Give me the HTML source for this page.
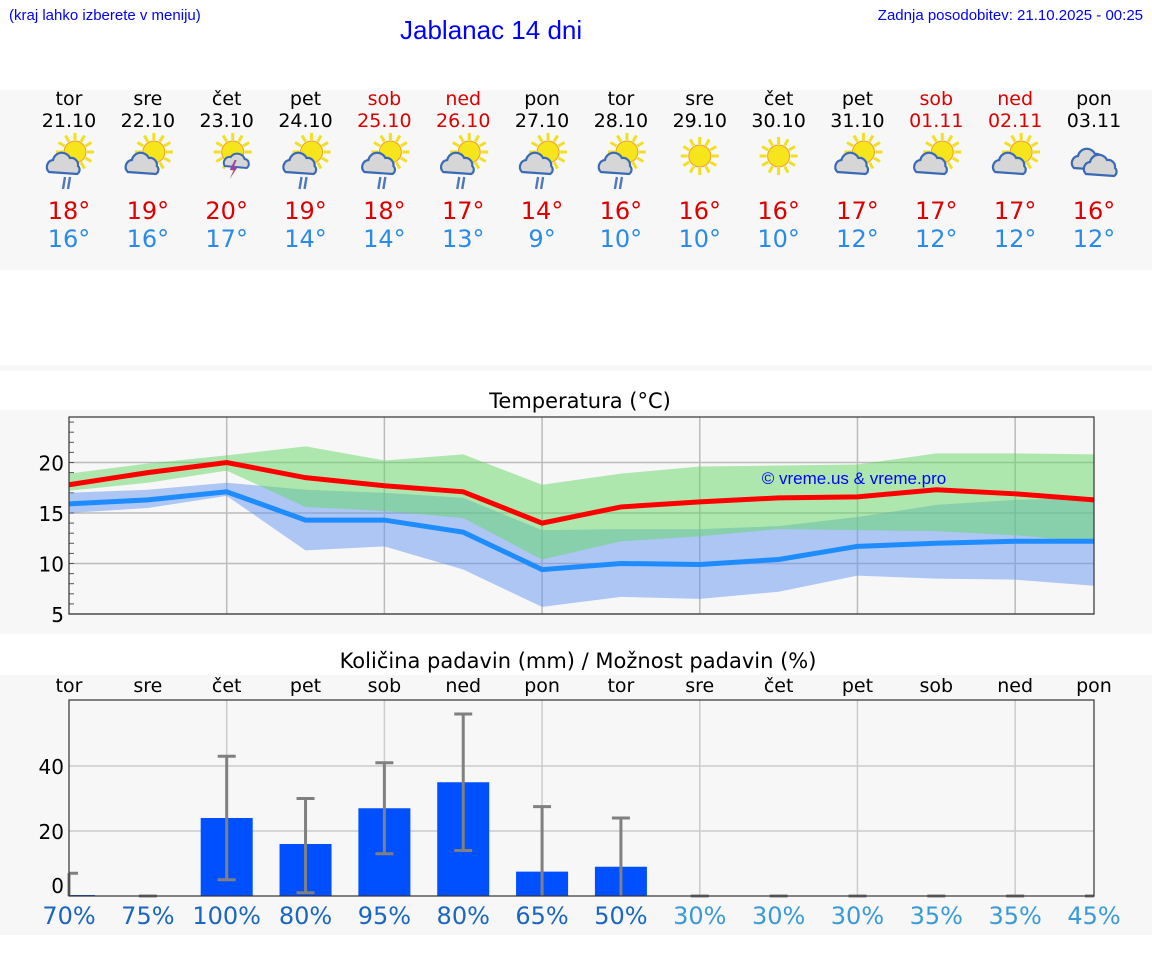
<!DOCTYPE html>
<html><head><meta charset="utf-8">
<style>
body{margin:0;width:1152px;height:975px;background:#fff;font-family:"DejaVu Sans","Liberation Sans",sans-serif;position:relative;overflow:hidden}
.abs{position:absolute}
.band{position:absolute;left:0;width:1152px;background:#f7f7f7}
.c{position:absolute;text-align:center;width:80px;transform:translateX(-40px)}
</style></head><body>
<div class="abs" style="left:9px;top:7px;font-size:15px;color:#00f;font-family:'Liberation Sans',sans-serif">(kraj lahko izberete v meniju)</div>
<div class="abs" style="left:400px;top:15px;font-size:26px;color:#00f;font-family:'Liberation Sans',sans-serif">Jablanac 14 dni</div>
<div class="abs" style="right:9px;top:7px;font-size:15px;color:#00f;font-family:'Liberation Sans',sans-serif">Zadnja posodobitev: 21.10.2025 - 00:25</div>
<div class="band" style="top:90px;height:180px"></div>
<div class="band" style="top:365px;height:6px"></div>
<div class="band" style="top:410px;height:224px"></div>
<div class="band" style="top:675px;height:260px"></div>
<div id="days"></div>
<svg id="ch" class="abs" style="left:0;top:0" width="1152" height="975"></svg>
<script>
const days=["tor","sre","čet","pet","sob","ned","pon","tor","sre","čet","pet","sob","ned","pon"];
const dates=["21.10","22.10","23.10","24.10","25.10","26.10","27.10","28.10","29.10","30.10","31.10","01.11","02.11","03.11"];
const weekend=[0,0,0,0,1,1,0,0,0,0,0,1,1,0];
const icons=["rain","pc","storm","rain","rain","rain","rain","rain","sun","sun","pc","pc","pc","cloud"];
const tmax=[17.8,19,20,18.5,17.7,17.1,14,15.6,16.1,16.5,16.6,17.3,16.9,16.3];
const tmin=[15.9,16.3,17.1,14.3,14.3,13.1,9.4,10,9.9,10.4,11.7,12,12.2,12.2];
const maxHi=[18.9,19.9,20.7,21.6,20.2,20.8,17.8,18.9,19.6,19.7,19.8,20.9,20.9,20.8];
const maxLo=[17.2,18,19.2,15.6,15.2,14.5,10.4,12.2,12.7,13.4,13.3,13.2,12.8,12.1];
const minHi=[17,17.3,18,17.3,17,16.5,13.3,13.4,13.4,13.7,14.6,15.8,16.3,16.5];
const minLo=[15,15.5,16.7,11.3,11.7,9.4,5.7,6.7,6.5,7.2,8.8,8.5,8.4,7.8];
const maxLbl=["18°","19°","20°","19°","18°","17°","14°","16°","16°","16°","17°","17°","17°","16°"];
const minLbl=["16°","16°","17°","14°","14°","13°","9°","10°","10°","10°","12°","12°","12°","12°"];
const precip=[0.3,0,24,16,27,35,7.5,9,0,0,0,0,0,0];
const errLo=[0,0,5,1,13,14,0,0,0,0,0,0,0,0];
const errHi=[7,0,43,30,41,56,27.5,24,0,0,0,0,0,0];
const prob=["70%","75%","100%","80%","95%","80%","65%","50%","30%","30%","30%","35%","35%","45%"];
const tTicks=[5,10,15,20];
const pTicks=[0,20,40];

const X=i=>69+i*1025/13;
const TY=v=>614-(v-5)*10.1;
const PY=v=>896-v*3.25;
const NS="http://www.w3.org/2000/svg";
const svg=document.getElementById('ch');
function el(tag,at,parent){const e=document.createElementNS(NS,tag);for(const k in at)e.setAttribute(k,at[k]);(parent||svg).appendChild(e);return e;}
const dd=document.getElementById('days');
function div(txt,x,y,st){const d=document.createElement('div');d.className='c';d.style.left=x+'px';d.style.top=y+'px';d.style.cssText+=st;d.textContent=txt;dd.appendChild(d);return d;}

function icon(type,cx,cy,g){
  if(type!=="cloud"){
    const sx=type==="sun"?cx:cx+6, sy=type==="sun"?cy-4:cy-8;
    for(let a=0;a<12;a++){const t=a*Math.PI/6;el('line',{x1:sx+Math.cos(t)*12,y1:sy+Math.sin(t)*12,x2:sx+Math.cos(t)*19,y2:sy+Math.sin(t)*19,stroke:'#f0e020','stroke-width':3},g);}
    el('circle',{cx:sx,cy:sy,r:11,fill:'#f7e51c',stroke:'#f0a020','stroke-width':1},g);
  }
  if(type==="sun")return;
  if(type==="storm"){
    el('path',{d:`M${cx-2} ${cy+6} a6 6 0 0 1 6-9 a8 8 0 0 1 14 2 a5 5 0 0 1 2 9 z`,fill:'#d6d6d6',stroke:'#3a6ab5','stroke-width':2},g);
    el('path',{d:`M${cx+8} ${cy} l-5 10 h4 l-4 9 l8-12 h-4 l3-7z`,fill:'#a040a0'},g);return;
  }
  const ox=type==="cloud"?cx-20:cx-20, oy=type==="cloud"?cy-2:cy+2;
  el('path',{d:`M${ox} ${oy+10} a7 7 0 0 1 4-12 a9 9 0 0 1 17-2 a7 7 0 0 1 8 8 a5 5 0 0 1 -1 8 z`,fill:'#d6d6d6',stroke:'#3a6ab5','stroke-width':2.2},g);
  if(type==="cloud")el('path',{d:`M${ox+12} ${oy+16} a7 7 0 0 1 4-12 a9 9 0 0 1 17-2 a7 7 0 0 1 8 8 a5 5 0 0 1 -1 8 z`,fill:'#d6d6d6',stroke:'#3a6ab5','stroke-width':2.2},g);
  if(type==="rain"){for(let k=0;k<2;k++)el('line',{x1:ox+16+k*5,y1:oy+15,x2:ox+14+k*5,y2:oy+27,stroke:'#5078c0','stroke-width':2.4},g);}
}

for(let i=0;i<14;i++){
  const x=X(i),col=weekend[i]?'#d00':'#000';
  const a=div(days[i],x,88,'font-size:19px;color:'+col);
  
  const b=div(dates[i],x,110,'font-size:19px;color:'+col);
  
  const c=div(maxLbl[i],x,197,'font-size:24px;color:#d00');
  
  const d=div(minLbl[i],x,225,'font-size:24px;color:#2a8ae8');
  
  const e=div(days[i],x,675,'font-size:19px;color:#000');
  
  const f=div(prob[i],x,902,'font-size:24px;color:'+(i<8?'#1a66c0':'#3a9ad8'));
  
  const g=el('g',{});
  
  
  icon(icons[i],x,160,g);
}

let t=el('text',{x:580,y:408,'text-anchor':'middle','font-size':21,fill:'#000','font-family':'DejaVu Sans,sans-serif'});t.textContent='Temperatura (°C)';

t=el('text',{x:578,y:668,'text-anchor':'middle','font-size':21,fill:'#000','font-family':'DejaVu Sans,sans-serif'});t.textContent='Količina padavin (mm) / Možnost padavin (%)';


// Temperature chart
el('rect',{x:69,y:417,width:1025,height:197,fill:'#f7f7f7'});
for(let i=2;i<13;i+=2)el('line',{x1:X(i),x2:X(i),y1:417,y2:614,stroke:'#bbb','stroke-width':1.5});
tTicks.forEach(v=>{el('line',{x1:69,x2:1094,y1:TY(v),y2:TY(v),stroke:'#bbb','stroke-width':1.5});
 const l=el('text',{x:64,y:TY(v)+8,'text-anchor':'end','font-size':20,fill:'#000'});l.textContent=v;
 });
for(let v=5;v<=24;v++)el('line',{x1:69,x2:74,y1:TY(v),y2:TY(v),stroke:'#555','stroke-width':1});
function band(hi,lo,fill,name){const pts=hi.map((v,i)=>X(i)+','+TY(v)).concat(lo.map((v,i)=>X(i)+','+TY(v)).reverse());
 const p=el('polygon',{points:pts.join(' '),fill:fill});}
band(minHi,minLo,'rgba(100,150,240,0.5)','min-temp-range');
band(maxHi,maxLo,'rgba(100,215,100,0.5)','max-temp-range');
function line(d,col,name){const p=el('polyline',{points:d.map((v,i)=>X(i)+','+TY(v)).join(' '),fill:'none',stroke:col,'stroke-width':5});
 }
line(tmin,'#1e8cff','min-temp-line');
line(tmax,'#ff0000','max-temp-line');
el('rect',{x:69,y:417,width:1025,height:197,fill:'none',stroke:'#333','stroke-width':1.2});
t=el('text',{x:854,y:484,'text-anchor':'middle','font-size':17,fill:'#00f','font-family':'Liberation Sans,sans-serif'});t.textContent='© vreme.us & vreme.pro';


// Precip chart
el('rect',{x:69,y:700,width:1025,height:196,fill:'#f7f7f7'});
for(let i=2;i<13;i+=2)el('line',{x1:X(i),x2:X(i),y1:700,y2:896,stroke:'#ccc','stroke-width':1.5});
pTicks.forEach(v=>{if(v>0)el('line',{x1:69,x2:1094,y1:PY(v),y2:PY(v),stroke:'#ccc','stroke-width':1.5});
 const l=el('text',{x:64,y:PY(v)+(v===0?-3:8),'text-anchor':'end','font-size':20,fill:'#000'});l.textContent=v;
 });
precip.forEach((v,i)=>{
 if(v>0){const x0=Math.max(69,X(i)-26),x1=Math.min(1094,X(i)+26);
  const r=el('rect',{x:x0,y:PY(v),width:x1-x0,height:PY(0)-PY(v),fill:'#0050ff'});
  }
 const g=el('g',{stroke:'#808080','stroke-width':3});
 
 
 el('line',{x1:X(i),x2:X(i),y1:PY(errHi[i]),y2:PY(errLo[i])},g);
 el('line',{x1:Math.max(69,X(i)-9),x2:Math.min(1094,X(i)+9),y1:PY(errHi[i]),y2:PY(errHi[i])},g);
 if(errLo[i]>0)el('line',{x1:X(i)-9,x2:X(i)+9,y1:PY(errLo[i]),y2:PY(errLo[i])},g);
});
el('rect',{x:69,y:700,width:1025,height:196,fill:'none',stroke:'#333','stroke-width':1.2});
</script>
</body></html>
